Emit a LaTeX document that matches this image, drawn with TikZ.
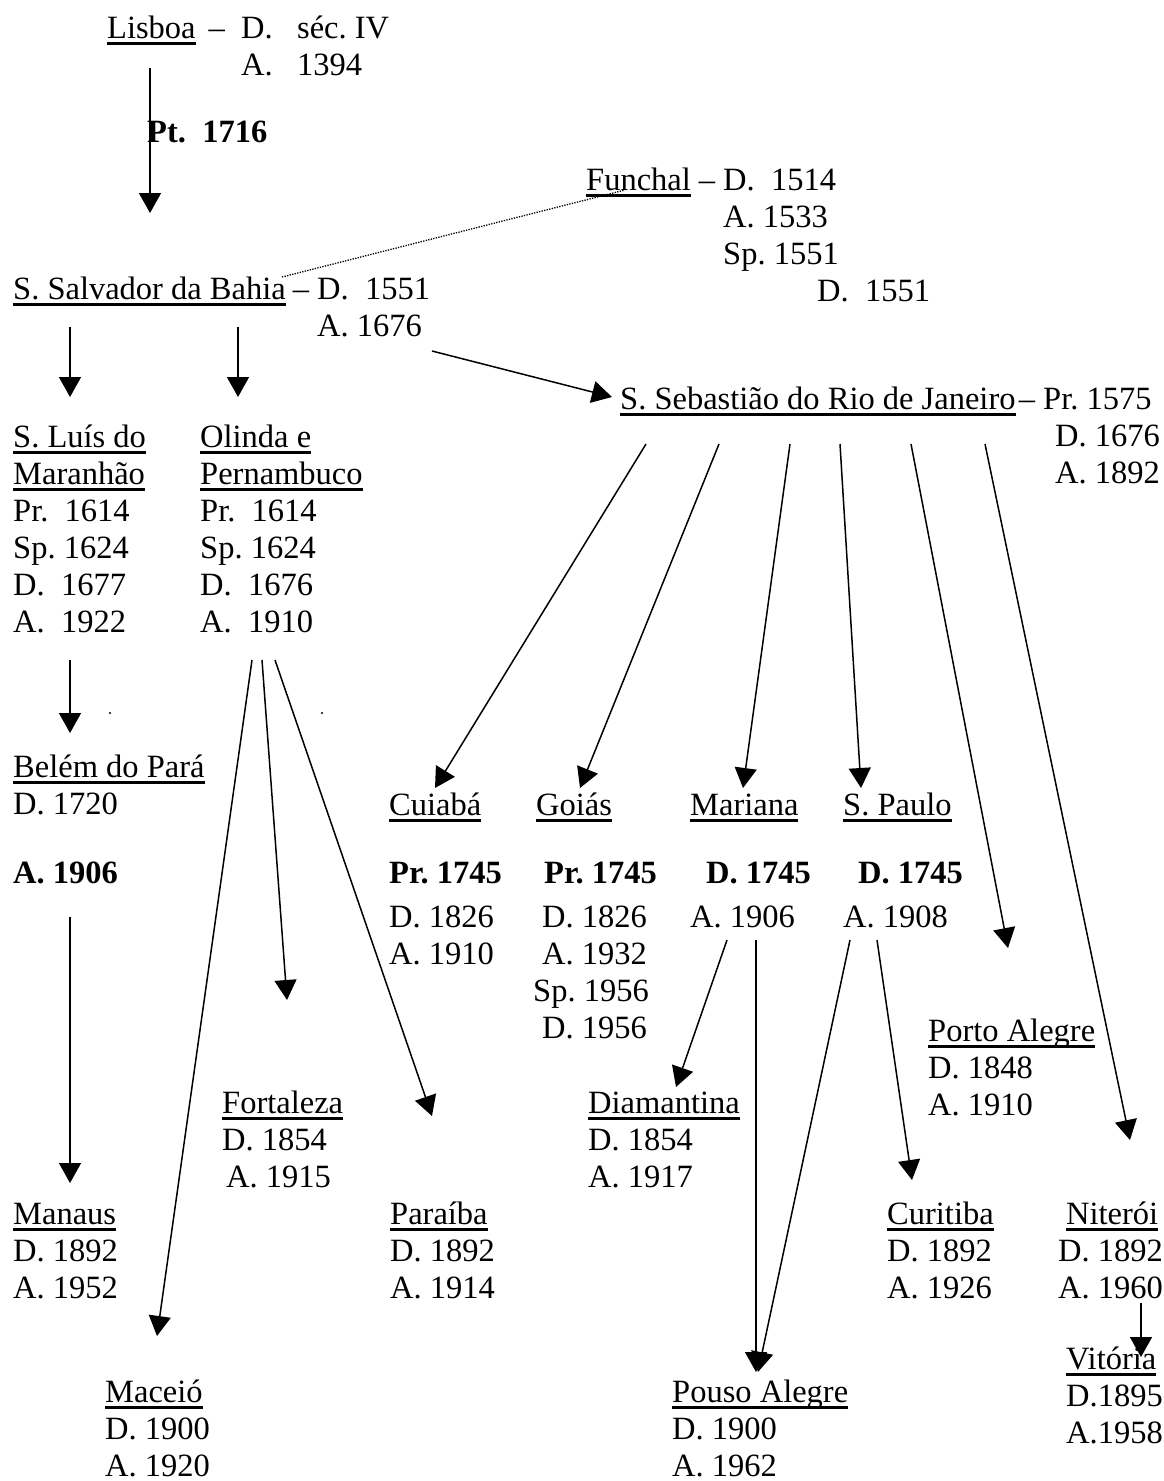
\documentclass[tikz,border=0pt]{standalone}
\usepackage{fontspec}
\setmainfont{Liberation Serif}
\usetikzlibrary{arrows.meta, calc}
\newsavebox{\citybox}
\newcommand{\city}[1]{\sbox{\citybox}{#1}\rlap{\rule[-7pt]{\wd\citybox}{3.5pt}}\usebox{\citybox}}
\newcommand{\entries}[1]{\begin{tabular}[t]{@{}l@{}}#1\end{tabular}}

\begin{document}
\begin{tikzpicture}[x=1pt, y=-1pt, >={Triangle[length=20pt, width=22pt]},
    every node/.style={inner sep=0pt, anchor=base west,
        font=\fontsize{32.5}{37}\selectfont\frenchspacing},
    arr/.style={->, line width=1.5pt},
    link/.style={line width=1.3pt, dash pattern=on 1.3pt off 1.3pt}]
    \useasboundingbox (0,0) rectangle (1164,1481);

    % Top of the tree
    \node (lisboa) at (107,38) {\city{Lisboa}};
    \node (lisboadates) at (241,38) {\entries{\llap{–~~}D.~~~séc. IV\\A.~~~1394}};
    \node (pt) at (147,142) {\textbf{Pt.~~1716}};
    \node (funchal) at (586,190) {\city{Funchal}};
    \node (funchaldates) at (723,190) {\entries{\llap{–~}D.~~1514\\A.~1533\\Sp.~1551\\\hspace*{94pt}D.~~1551}};
    \node (salvador) at (13,299) {\city{S. Salvador da Bahia}};
    \node (salvadordates) at (317,299) {\entries{\llap{–~}D.~~1551\\A.~1676}};
    \node (rio) at (620,409) {\city{S. Sebastião do Rio de Janeiro}};
    \node (riodates) at (1043,409) {\entries{\llap{–~}Pr.~1575\\\hspace*{12pt}D.~1676\\\hspace*{12pt}A.~1892}};

    % North and north-east
    \node (luis) at (13,447) {\entries{\city{S. Luís do}\\\city{Maranhão}\\Pr.~~1614\\Sp.~1624\\D.~~1677\\A.~~1922}};
    \node (olinda) at (200,447) {\entries{\city{Olinda e}\\\city{Pernambuco}\\Pr.~~1614\\Sp.~1624\\D.~~1676\\A.~~1910}};
    \node (belem) at (13,777) {\entries{\city{Belém do Pará}\\D. 1720\\[32pt]\textbf{A. 1906}}};
    \node (manaus) at (13,1224) {\entries{\city{Manaus}\\D. 1892\\A. 1952}};
    \node (fortaleza) at (222,1113) {\entries{\city{Fortaleza}\\D. 1854\\\hspace*{4pt}A. 1915}};
    \node (paraiba) at (390,1224) {\entries{\city{Paraíba}\\D. 1892\\A. 1914}};
    \node (maceio) at (105,1402) {\entries{\city{Maceió}\\D. 1900\\A. 1920}};

    % Centre and south
    \node (cuiaba) at (389,815) {\entries{\city{Cuiabá}\\[31pt]\textbf{Pr. 1745}\\[7pt]D. 1826\\A. 1910}};
    \node (goias) at (533,815) {\entries{\hspace*{3pt}\city{Goiás}\\[31pt]\hspace*{11pt}\textbf{Pr. 1745}\\[7pt]\hspace*{9pt}D. 1826\\\hspace*{9pt}A. 1932\\Sp. 1956\\\hspace*{9pt}D. 1956}};
    \node (mariana) at (690,815) {\entries{\city{Mariana}\\[31pt]\hspace*{16pt}\textbf{D. 1745}\\[7pt]A. 1906}};
    \node (spaulo) at (843,815) {\entries{\city{S. Paulo}\\[31pt]\hspace*{15pt}\textbf{D. 1745}\\[7pt]A. 1908}};
    \node (diamantina) at (588,1113) {\entries{\city{Diamantina}\\D. 1854\\A. 1917}};
    \node (pouso) at (672,1402) {\entries{\city{Pouso Alegre}\\D. 1900\\A. 1962}};
    \node (portoalegre) at (928,1041) {\entries{\city{Porto Alegre}\\D. 1848\\A. 1910}};
    \node (curitiba) at (887,1224) {\entries{\city{Curitiba}\\D. 1892\\A. 1926}};
    \node (niteroi) at (1058,1224) {\entries{\hspace*{8pt}\city{Niterói}\\D. 1892\\A. 1960}};
    \node (vitoria) at (1066,1369) {\entries{\city{Vitória}\\D.1895\\A.1958}};

    % Connectors
    \draw[arr] ($(lisboa.base west)+(43,30)$) -- ($(salvador.base west)+(137,-86)$);
    \draw[link] ($(salvador.base west)+(269,-22)$) -- ($(funchal.base west)+(39,0)$);
    \draw[arr] ($(salvador.base west)+(57,28)$) -- ($(luis.base west)+(57,-50)$);
    \draw[arr] ($(salvador.base west)+(225,28)$) -- ($(olinda.base west)+(38,-50)$);
    \draw[arr] ($(salvador.base west)+(419,52)$) -- ($(rio.base west)+(-8,-12)$);

    \draw[arr] ($(rio.base west)+(26,35)$) -- ($(cuiaba.base west)+(46,-27)$);
    \draw[arr] ($(rio.base west)+(99,35)$) -- ($(goias.base west)+(47,-27)$);
    \draw[arr] ($(rio.base west)+(170,35)$) -- ($(mariana.base west)+(53,-27)$);
    \draw[arr] ($(rio.base west)+(220,35)$) -- ($(spaulo.base west)+(18,-27)$);
    \draw[arr] ($(rio.base west)+(291,35)$) -- ($(portoalegre.base west)+(80,-93)$);
    \draw[arr] ($(rio.base west)+(365,35)$) -- ($(niteroi.base west)+(72,-84)$);

    \draw[arr] ($(luis.base west)+(57,213)$) -- ($(belem.base west)+(57,-44)$);
    \draw[arr] ($(belem.base west)+(57,140)$) -- ($(manaus.base west)+(57,-41)$);
    \draw[arr] ($(olinda.base west)+(52,213)$) -- ($(maceio.base west)+(52,-66)$);
    \draw[arr] ($(olinda.base west)+(62,213)$) -- ($(fortaleza.base west)+(65,-113)$);
    \draw[arr] ($(olinda.base west)+(75,213)$) -- ($(paraiba.base west)+(42,-108)$);

    \draw[arr] ($(mariana.base west)+(37,125)$) -- ($(diamantina.base west)+(88,-26)$);
    \draw[arr] ($(mariana.base west)+(66,125)$) -- ($(pouso.base west)+(84,-30)$);
    \draw[arr] ($(spaulo.base west)+(7,125)$) -- ($(pouso.base west)+(86,-30)$);
    \draw[arr] ($(spaulo.base west)+(34,125)$) -- ($(curitiba.base west)+(25,-44)$);
    \draw[arr] ($(niteroi.base west)+(83,79)$) -- ($(vitoria.base west)+(75,-12)$);

    % Stray dots
    \fill ($(luis.base west)+(97,266)$) circle (1.2);
    \fill ($(olinda.base west)+(122,266)$) circle (1.2);
\end{tikzpicture}
\end{document}
